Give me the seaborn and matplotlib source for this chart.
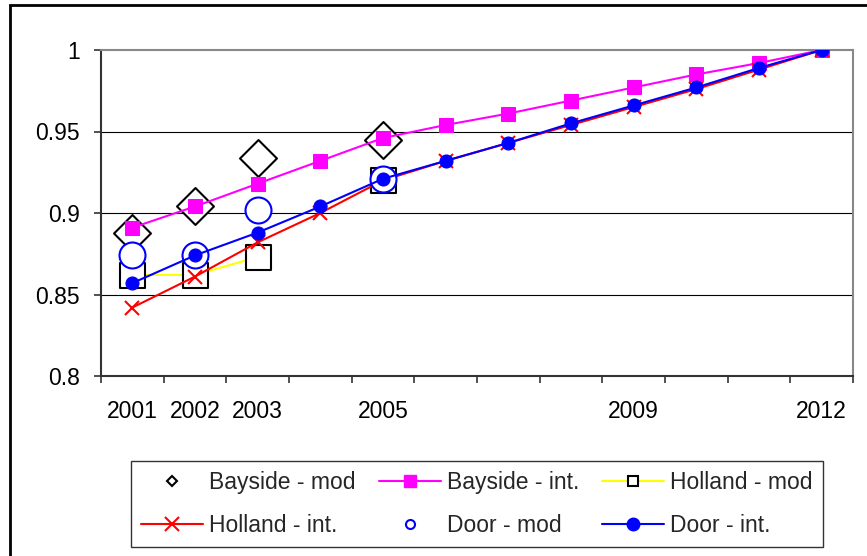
import numpy as np
import pandas as pd
import matplotlib
matplotlib.use("Agg")
import matplotlib.pyplot as plt
from matplotlib.lines import Line2D
from matplotlib.patches import Rectangle
import seaborn as sns

# values (NaN = year not modelled)
years = ["2001", "2002", "2003", "2004", "2005", "2006",
         "2007", "2008", "2009", "2010", "2011", "2012"]
tick_labels = ["2001", "2002", "2003", "", "2005", "",
               "", "", "2009", "", "", "2012"]
nan = np.nan
bayside_mod = [0.888, 0.904, 0.934, nan, 0.945, nan, nan, nan, nan, nan, nan, nan]
bayside_int = [0.891, 0.904, 0.918, 0.932, 0.946, 0.954, 0.961, 0.969, 0.977, 0.985, 0.992, 1.0]
holland_mod = [0.862, 0.862, 0.873, nan, 0.920, nan, nan, nan, nan, nan, nan, nan]
holland_int = [0.842, 0.861, 0.882, 0.900, 0.920, 0.932, 0.943, 0.954, 0.965, 0.976, 0.988, 1.0]
door_mod = [0.874, 0.874, 0.902, nan, 0.921, nan, nan, nan, nan, nan, nan, nan]
door_int = [0.857, 0.874, 0.888, 0.904, 0.921, 0.932, 0.943, 0.955, 0.966, 0.977, 0.989, 1.0]

sns.set_theme(style="white")
plt.rcParams["font.family"] = ["Liberation Sans", "DejaVu Sans"]
FS = 16.5

df = pd.DataFrame({"pos": np.arange(len(years)), "year": years,
                   "bayside_mod": bayside_mod, "bayside_int": bayside_int,
                   "holland_mod": holland_mod, "holland_int": holland_int,
                   "door_mod": door_mod, "door_int": door_int})

fig = plt.figure(figsize=(8.67, 5.56), dpi=100)
ax = fig.add_axes([101 / 867, 1 - 376 / 556, 752 / 867, 326 / 556])

# outer chart border
fig.patches.append(Rectangle((10 / 867, -0.05), 1.1, 1 - 5 / 556 + 0.05,
                             transform=fig.transFigure, fill=False,
                             edgecolor="black", linewidth=2, clip_on=False))

# horizontal gridlines
for v in [0.85, 0.9, 0.95]:
    ax.axhline(v, color="black", linewidth=0.8, zorder=1)

# Bayside - mod : open diamonds only
m = df.dropna(subset=["bayside_mod"])
sns.scatterplot(data=m, x="pos", y="bayside_mod", marker="D", s=18.8 ** 2,
                color="white", edgecolor="black", linewidth=1.5, zorder=3, ax=ax)

# Bayside - int.
sns.lineplot(data=df, x="pos", y="bayside_int", color="#FF00FF", linewidth=1.5,
             marker="s", markersize=9.4, markeredgecolor="#FF00FF", zorder=4, ax=ax)

# Holland - mod : yellow line only over contiguous years, open squares
valid = df["holland_mod"].notna()
run_id = (~valid).cumsum()
for _, seg in df[valid].groupby(run_id[valid]):
    if len(seg) > 1:
        sns.lineplot(data=seg, x="pos", y="holland_mod", color="#FFFF00",
                     linewidth=1.5, zorder=5, ax=ax)
m = df.dropna(subset=["holland_mod"])
sns.scatterplot(data=m, x="pos", y="holland_mod", marker="s", s=18 ** 2,
                color="white", edgecolor="black", linewidth=1.5, zorder=5.5, ax=ax)

# Holland - int.
sns.lineplot(data=df, x="pos", y="holland_int", color="#FF0000", linewidth=1.5,
             marker="x", markersize=10, markeredgewidth=1.5,
             markeredgecolor="#FF0000", zorder=6, ax=ax)

# Door - mod : open circles
m = df.dropna(subset=["door_mod"])
sns.scatterplot(data=m, x="pos", y="door_mod", marker="o", s=18.7 ** 2,
                color="white", edgecolor="#0000FF", linewidth=1.5, zorder=7, ax=ax)

# Door - int.
sns.lineplot(data=df, x="pos", y="door_int", color="#0000FF", linewidth=1.5,
             marker="o", markersize=9.4, markeredgecolor="#0000FF", zorder=8, ax=ax)

# axes
ax.set_xlim(-0.5, len(years) - 0.5)
ax.set_ylim(0.8, 1.0)
ax.set_yticks([0.8, 0.85, 0.9, 0.95, 1.0])
ax.set_yticklabels(["0.8", "0.85", "0.9", "0.95", "1"])
ax.set_xticks(np.arange(-0.5, len(years), 1.0))
ax.set_xticklabels([])
ax.set_xticks(np.arange(len(years)), minor=True)
ax.set_xticklabels(tick_labels, minor=True)
ax.tick_params(axis="x", which="major", direction="out", length=5, width=1.2,
               color="#333333", bottom=True)
ax.tick_params(axis="x", which="minor", length=0, pad=17, labelsize=FS,
               labelcolor="black", bottom=True)
ax.tick_params(axis="y", direction="out", length=5, width=1.2, color="#333333",
               pad=10, labelsize=FS, labelcolor="black", left=True)
ax.set_xlabel("")
ax.set_ylabel("")
for side in ["top", "right"]:
    ax.spines[side].set_color("#888888")
    ax.spines[side].set_linewidth(1.5)
for side in ["left", "bottom"]:
    ax.spines[side].set_color("#333333")
    ax.spines[side].set_linewidth(1.5)

# legend with small Excel-like keys, filled row by row like Excel
handles = [
    Line2D([], [], linestyle="none", marker="D", markersize=5.5,
           markerfacecolor="white", markeredgecolor="black", markeredgewidth=1.5),
    Line2D([], [], color="#FF00FF", linewidth=1.5, marker="s", markersize=9,
           markeredgecolor="#FF00FF"),
    Line2D([], [], color="#FFFF00", linewidth=1.5, marker="s", markersize=7,
           markerfacecolor="white", markeredgecolor="black", markeredgewidth=1.5),
    Line2D([], [], color="#FF0000", linewidth=1.5, marker="x", markersize=10,
           markeredgewidth=1.5),
    Line2D([], [], linestyle="none", marker="o", markersize=6.5,
           markerfacecolor="white", markeredgecolor="#0000FF", markeredgewidth=1.5),
    Line2D([], [], color="#0000FF", linewidth=1.5, marker="o", markersize=9,
           markeredgecolor="#0000FF"),
]
labels = ["Bayside - mod", "Bayside - int.", "Holland - mod",
          "Holland - int.", "Door - mod", "Door - int."]
order = [0, 3, 1, 4, 2, 5]
leg = ax.legend([handles[i] for i in order], [labels[i] for i in order],
                ncol=3, loc="upper center",
                bbox_to_anchor=(0.5, -0.261), fontsize=FS, frameon=True,
                fancybox=False, edgecolor="black", handlelength=2.7,
                handletextpad=0.27, columnspacing=1.0, borderpad=0.45,
                labelspacing=0.85, borderaxespad=0)
leg.get_frame().set_linewidth(1.0)

fig.savefig("out.png", dpi=100)
